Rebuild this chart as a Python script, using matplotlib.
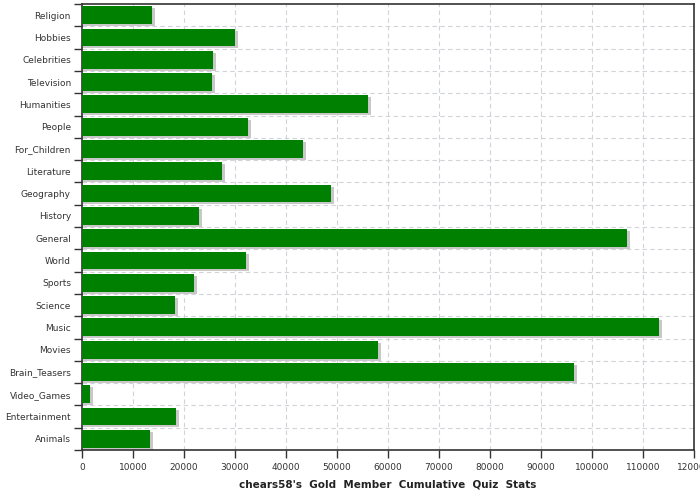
import matplotlib
matplotlib.use("Agg")
import matplotlib.pyplot as plt
import numpy as np

# categories, top to bottom as in the chart
categories = ["Religion", "Hobbies", "Celebrities", "Television", "Humanities",
              "People", "For_Children", "Literature", "Geography", "History",
              "General", "World", "Sports", "Science", "Music", "Movies",
              "Brain_Teasers", "Video_Games", "Entertainment", "Animals"]
scores = [13700, 30000, 25700, 25500, 56100,
          32500, 43300, 27450, 48800, 22900,
          106900, 32200, 22000, 18200, 113100, 58000,
          96500, 1600, 18400, 13300]
x_ticks = list(range(0, 120001, 10000))

fig = plt.figure(figsize=(7, 5), dpi=100)
ax = fig.add_axes([82/700, 50/500, 612/700, 446/500])

n = len(categories)
pos = np.arange(n)[::-1]  # first category at top
h = 0.8

# shadow then bars
ax.barh(pos - 0.09, [v + 600 for v in scores], height=h, color="#c8c8c8",
        left=0, zorder=2)
ax.barh(pos, scores, height=h, color="#008000", zorder=3)

ax.set_xlim(0, 120000)
ax.set_ylim(-0.5, n - 0.5)

# grid: vertical at x ticks, horizontal at category boundaries
for x in x_ticks[1:-1]:
    ax.axvline(x, color="#d0d4d8", lw=0.8, ls=(0, (4, 3)), zorder=1)
for b in np.arange(n - 1) + 0.5:
    ax.axhline(b, color="#d0d4d8", lw=0.8, ls=(0, (4, 3)), zorder=1)

ax.set_xticks(x_ticks)
ax.set_xticklabels([str(t) for t in x_ticks], fontsize=6.5, color="#333333")
ax.set_yticks(pos)
ax.set_yticklabels(categories, fontsize=6.5, color="#333333")
ax.tick_params(axis="y", length=0, pad=8)
ax.set_yticks(np.arange(n + 1) - 0.5, minor=True)
ax.tick_params(axis="y", which="minor", length=6, width=1, color="#333333")
ax.tick_params(axis="x", length=6, width=1, color="#333333", pad=3)

for s in ax.spines.values():
    s.set_color("#333333")
    s.set_linewidth(1.2)

ax.set_xlabel("chears58's  Gold  Member  Cumulative  Quiz  Stats",
              fontsize=7.5, fontweight="bold", color="#222222", labelpad=6)

fig.savefig("out.png", dpi=100)
